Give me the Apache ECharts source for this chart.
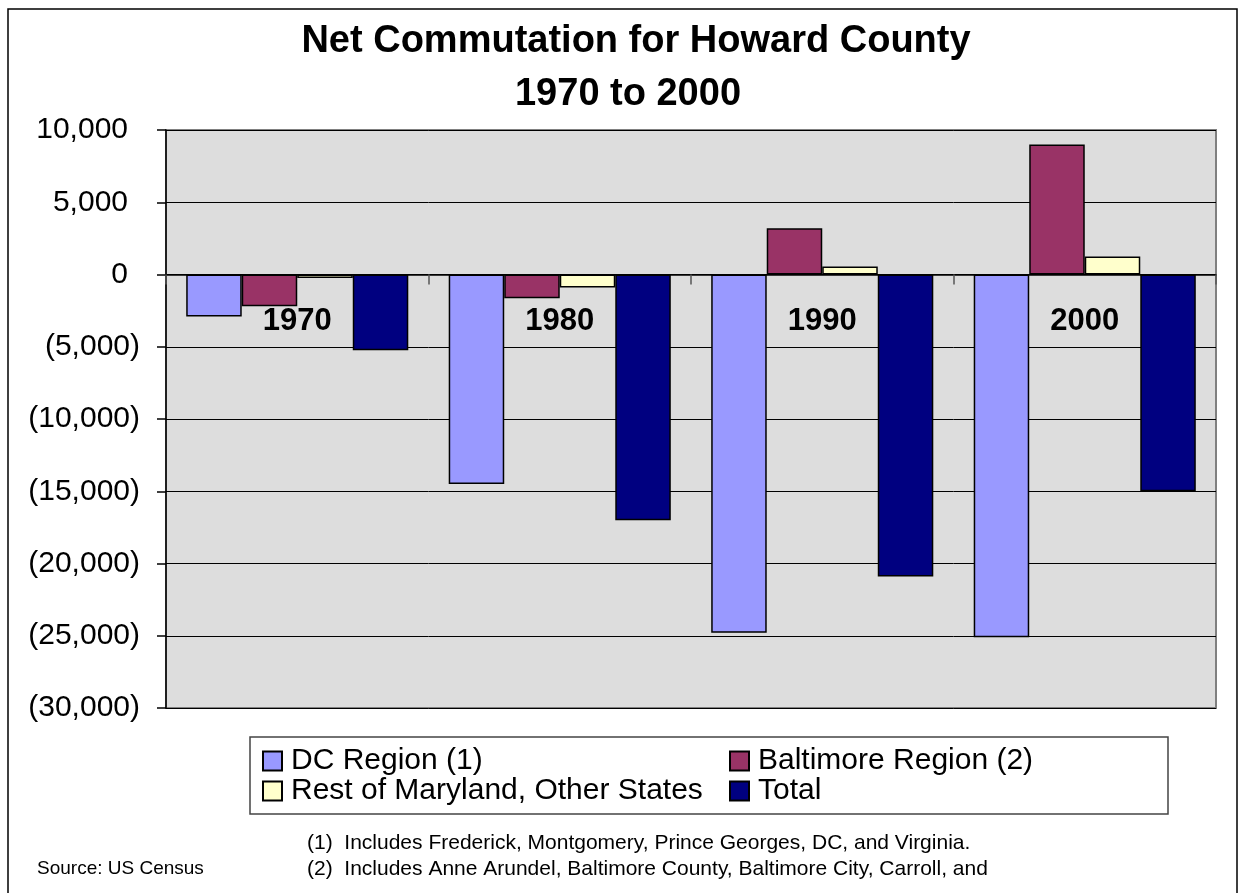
<!DOCTYPE html>
<html>
<head>
<meta charset="utf-8">
<script src="https://cdn.jsdelivr.net/npm/echarts@6/dist/echarts.min.js"></script>
<style>
  html, body { margin: 0; padding: 0; background: #fff; }
  #chart { width: 1241px; height: 893px; }
</style>
</head>
<body>
<div id="chart"></div>
<script>
  // data
  var years = ['1970', '1980', '1990', '2000'];
  var dcRegion = [-2900, -14500, -24800, -25100];
  var baltimoreRegion = [-2200, -1650, 3200, 9000];
  var restOfMaryland = [-250, -900, 550, 1250];
  var total = [-5250, -17000, -20900, -15000];

  var font = 'Liberation Sans, Arial, sans-serif';

  function fmt(v) {
    var s = Math.abs(v).toLocaleString('en-US');
    return v < 0 ? '(' + s + ')' : '{p|' + s + '}';
  }

  function bar(name, data, color) {
    return {
      name: name,
      type: 'bar',
      data: data,
      barGap: '0%',
      barCategoryGap: '15.4%',
      itemStyle: { color: color, borderColor: '#000', borderWidth: 1.5 }
    };
  }

  var legendText = { fontSize: 30, color: '#000', width: 416, lineHeight: 30, fontFamily: font, padding: [0, 0, 0, 4] };

  var chart = echarts.init(document.getElementById('chart'));
  chart.setOption({
    animation: false,
    textStyle: { fontFamily: font },
    grid: {
      left: 166, right: 25, top: 130, bottom: 185,
      show: true, backgroundColor: '#DDDDDD', borderColor: '#808080', borderWidth: 2
    },
    xAxis: {
      type: 'category',
      data: years,
      axisLine: { onZero: true, lineStyle: { color: '#000', width: 1.5 } },
      axisTick: { show: true, length: 10, lineStyle: { color: '#555', width: 1.5 } },
      // v6 keeps labels at the grid edge, so pull them up under the zero line
      axisLabel: { margin: -402, fontSize: 31, fontWeight: 'bold', color: '#000', fontFamily: font },
      z: 10
    },
    yAxis: {
      type: 'value',
      min: -30000, max: 10000, interval: 5000,
      axisLine: { show: true, lineStyle: { color: '#000', width: 1.5 } },
      axisTick: { show: true, length: 9, lineStyle: { color: '#000', width: 1.5 } },
      splitLine: { lineStyle: { color: '#000', width: 1 } },
      axisLabel: {
        margin: 26, fontSize: 30, color: '#000', fontFamily: font,
        formatter: fmt,
        rich: { p: { fontSize: 30, color: '#000', fontFamily: font, padding: [0, 12, 0, 0] } }
      }
    },
    legend: [
      {
        data: ['DC Region (1)', 'Baltimore Region (2)'],
        left: 262, top: 746, padding: 0,
        itemWidth: 19, itemHeight: 19, itemGap: 22, icon: 'rect',
        textStyle: legendText
      },
      {
        data: ['Rest of Maryland, Other States', 'Total'],
        left: 262, top: 776, padding: 0,
        itemWidth: 19, itemHeight: 19, itemGap: 22, icon: 'rect',
        textStyle: legendText
      }
    ],
    graphic: [
      { type: 'rect', shape: { x: 8, y: 9, width: 1229, height: 900 }, style: { fill: 'none', stroke: '#000', lineWidth: 1.5 }, silent: true },
      { type: 'rect', shape: { x: 250, y: 737, width: 918, height: 77 }, style: { fill: 'none', stroke: '#444', lineWidth: 1.5 }, silent: true },
      { type: 'text', x: 636, y: 42, style: { text: 'Net Commutation for Howard County', font: 'bold 38px ' + font, fill: '#000', textAlign: 'center', textVerticalAlign: 'middle' } },
      { type: 'text', x: 628, y: 95, style: { text: '1970 to 2000', font: 'bold 38px ' + font, fill: '#000', textAlign: 'center', textVerticalAlign: 'middle' } },
      { type: 'text', x: 37, y: 869, style: { text: 'Source: US Census', font: '19px ' + font, fill: '#000', textVerticalAlign: 'middle' } },
      { type: 'text', x: 307, y: 843, style: { text: '(1)  Includes Frederick, Montgomery, Prince Georges, DC, and Virginia.', font: '21px ' + font, fill: '#000', textVerticalAlign: 'middle' } },
      { type: 'text', x: 307, y: 869, style: { text: '(2)  Includes Anne Arundel, Baltimore County, Baltimore City, Carroll, and', font: '21px ' + font, fill: '#000', textVerticalAlign: 'middle' } }
    ],
    series: [
      bar('DC Region (1)', dcRegion, '#9999FF'),
      bar('Baltimore Region (2)', baltimoreRegion, '#993366'),
      bar('Rest of Maryland, Other States', restOfMaryland, '#FFFFCC'),
      bar('Total', total, '#000080')
    ]
  });
</script>
</body>
</html>
